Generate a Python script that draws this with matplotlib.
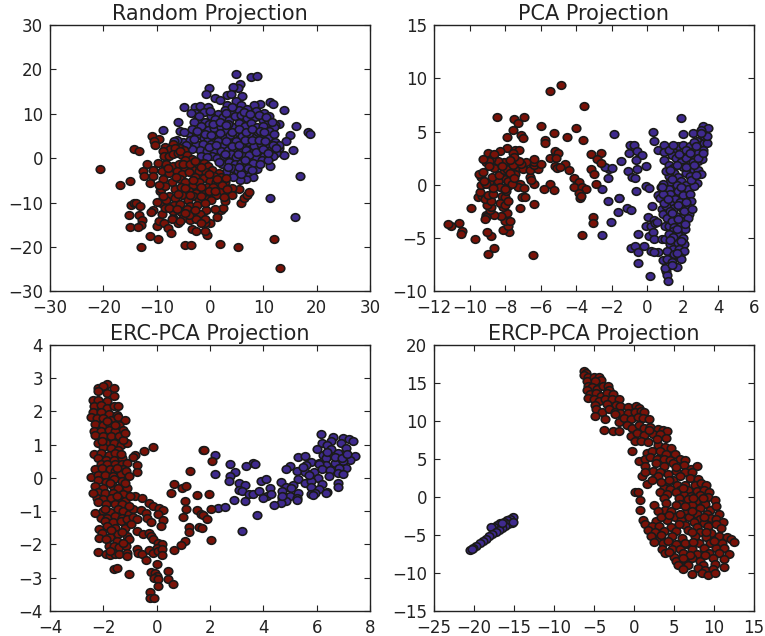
import matplotlib
matplotlib.use("Agg")
import matplotlib.pyplot as plt
from matplotlib.markers import MarkerStyle
from matplotlib.transforms import Affine2D

RED = "#7a1208"
BLUE = "#3f2a8e"
EDGE = "#1a1a1a"

titles = ["Random Projection", "PCA Projection", "ERC-PCA Projection", "ERCP-PCA Projection"]
xlims = [(-30, 30), (-12, 6), (-4, 8), (-25, 15)]
ylims = [(-30, 30), (-10, 15), (-4, 4), (-15, 20)]
xticks = [range(-30, 31, 10), range(-12, 7, 2), range(-4, 9, 2), range(-25, 16, 5)]
yticks = [range(-30, 31, 10), range(-10, 16, 5), range(-4, 5, 1), range(-15, 21, 5)]

# values
random_blue = [
    (4.9,19),(7.6,18.2),(8.8,18.4),(5.6,16.7),(5.2,15.7),(4.3,16),(-0.2,15.7),(-0.8,14.4),(0.9,13.6),(1.8,13.2),
    (3.1,14.2),(4,14.4),(6,13.9),(4.9,12.8),(-4.8,11.6),(-2.8,11.6),(-1.9,11.8),(-0.4,11.6),(-2.9,10.2),(-3.5,10.2),
    (-1.2,10.3),(3.2,11.9),(5.9,11.9),(9.4,12.2),(11.2,12.6),(11.9,12.1),(13.8,10.8),(8.2,11.9),(-6,8.2),(-8.8,6.4),
    (-5.7,6.1),(16.1,7.2),(13,7.6),(12.1,7.4),(18.4,5.9),(18.7,5.4),(15,5.2),(14.2,3.9),(15.6,1.8),(13.9,0.8),
    (12.9,2.3),(16.8,-4),(11.2,-9),(15.9,-13.2),(8.8,-2.5),(11.2,-1.8),(8.1,-4.3),(6.8,-4.8),(5.6,-4.9),(7.1,-3.2),
    (2.8,10.8),(4.2,10.6),(5.5,10.9),(7,11),(8.6,10.6),(10.2,10.2),(11,9.4),(1.5,10),(0.2,9.6),(-2,8.1),
    (-1,8.2),(-0.2,7.8),(1,8.8),(2.5,9.2),(3.6,8.6),(4.6,9.4),(5.8,9.8),(6.9,9),(8.4,9.2),(9.9,8.6),
    (10.8,8),(12,7),(-1.5,6.4),(-0.3,6.3),(0.8,6.7),(2,7.1),(3,6.2),(4.4,7),(5.4,7.9),(6.5,7.2),
    (7.7,7.9),(8.9,7),(10,7.2),(11.1,6.2),(-3.8,5.4),(-4.8,5.8),(-2.6,5),(-1.2,4.6),(-0.4,4.3),(1.1,5),
    (2.7,4.5),(3.8,5.3),(5,5.8),(6,4.9),(7.4,5.5),(8.6,4.7),(9.8,5.1),(10.9,4.6),(12.2,3.7),(13,2.9),
    (-5,3.6),(-6.2,4.2),(-3.8,4),(-2.6,3.3),(-1.4,3.1),(0.2,3.2),(1.5,3.9),(2.6,2.9),(3.8,3.4),(4.9,3.9),
    (6.2,3),(7.2,3.7),(8.3,2.7),(9.6,3.1),(10.8,3.2),(11.4,1.9),(12.4,1.2),(-1.9,1.9),(-0.5,1.7),(0.8,1.9),
    (2,1.6),(3.3,1.8),(4.6,2),(5.6,1.5),(6.8,1.8),(7.9,1.2),(9.3,1.7),(10.2,0.6),(11.2,0.2),(11.9,0.6),
    (-1.7,0.6),(0.4,0.4),(1.4,0.1),(2.7,0.5),(3.9,0.9),(4.9,0.3),(6.2,0.5),(7.3,-0.3),(8.6,0.2),(9.8,-0.4),
    (10.8,-0.5),(2.2,-1.2),(3.5,-0.9),(4.6,-1.3),(5.8,-1),(6.9,-1.4),(8,-1.1),(3,-3.1),(4.2,-2.2),(5.2,-3),
    (6.3,-2.6),(4.4,-4.2),(5.8,-3.6),(7.2,-2.2),(-3.4,2),(-4.5,2.9),(-6.8,3.8),(9,5.9),(0,10.6),(3.4,7.8),
    (-2.1,9.4),(-3,8.2),(-1.6,7.2),(0.5,7.6),(1.8,8.2),(3,10.2),(4.1,11.6),(6.4,10.5),(7.5,9.9),(9.1,9.8),
    (10.5,9.2),(11.6,8.2),(-3.4,6.6),(-2.4,6.2),(-0.9,5.5),(0.1,5.3),(1.9,5.6),(3,7.4),(4.1,6),(5.4,6.6),
    (6.7,6),(7.9,6.6),(9.3,6.2),(10.2,5.9),(12,5.4),(-3,4.4),(-0.1,2.5),(1.2,2.9),(3,3.9),(4.2,2.7),
    (5.5,3),(6.6,4),(7.9,4.2),(9.2,4),(10.4,3.9),(11.9,3),(12.4,2.2),(-0.6,0.2),(1.6,-0.9),(2.9,1),
    (5.3,1),(7.4,0.7),(8.7,1.3),(9.9,2.1),(10.9,1.2),(5.4,-1.9),(6.5,-0.3),(7.9,-2.7),(9.4,-1.3),(3.4,-2),
]
random_red = [
    (-20.7,-2.4),(-16.9,-6),(-15,-5.2),(-14.2,2),(-13.4,1.7),(-10.8,5.1),(-9.6,4.3),(-10.5,3.8),(-10.4,2.9),(-11.9,-1.3),
    (-12.6,-3),(-12.4,-4),(-10.6,-2.7),(-9.8,-1),(-10.7,-4),(-11.2,-5.7),(-9.4,-7.4),(-9.1,-7),(-14.9,-10.6),(-14.2,-10),
    (-13.8,-10.1),(-13.2,-10.7),(-15.1,-12.8),(-13.4,-12.8),(-12.7,-14),(-13,-15),(-15,-15.5),(-13.5,-15.5),(-10.6,-11.6),(-11,-12.2),
    (-11.2,-17.5),(-9.8,-18.2),(-12.9,-20.1),(-9.9,-15.3),(-9.6,-14.2),(-8.6,-14.7),(-9,-12.5),(-9.2,-10.2),(-7.8,-15.7),(-7.4,-16.8),
    (-6.9,-13.4),(-6,-14.7),(-4.7,-19.5),(-3.6,-19.5),(1.8,-19.4),(5.2,-20),(12,-18.3),(13.2,-24.7),(-0.6,-17.2),(-1,-16.4),
    (-3.4,-16),(-2.6,-16.4),(0,-14.7),(-1,-14.7),(1.3,-13.2),(2.1,-11.7),(2.4,-11.3),(1,-11.4),(-0.7,-11.7),(2.8,-9.7),
    (5.9,-10),(6.4,-9),(6.9,-8.3),(7.4,-7.6),(5.4,-6.9),(4.1,-6.7),(4.1,-8.2),(2.9,-5.4),(1.3,-6.9),(-7,3.2),
    (-8.5,2.5),(-5.7,2.4),(-7.5,2),(-6.5,2.2),(-4.8,1.8),(-8.9,1.6),(-8.6,0.5),(-7.7,0.6),(-6.9,1),(-6,1.2),
    (-5.3,0.8),(-5.6,1.6),(-4.3,0.8),(-3.4,-0.2),(-4.6,-0.4),(-2.4,-1.6),(-1.2,-1),(-0.4,-1.8),(0.4,-2.6),(1.6,-3.4),
    (-8.2,-1.4),(-7,-1.8),(-5.8,-1.2),(-4.6,-2.2),(-3.4,-2.4),(-2,-3),(-0.8,-3.2),(0.8,-4),(2,-4.2),(3,-4.4),
    (-9,-3),(-7.6,-3.4),(-6.2,-3),(-5.2,-3.6),(-4,-3.2),(-2.9,-4.2),(-1.2,-4.4),(0,-5.2),(1.2,-5.4),(2.2,-6),
    (-8.8,-4.8),(-7.2,-5.4),(-5.6,-4.6),(-4.6,-5.4),(-3.2,-6),(-2,-5.4),(-0.6,-6.4),(0.6,-6.6),(1.8,-7.6),(3.2,-7),
    (-8.4,-6.2),(-6.6,-7),(-5.4,-6.6),(-4,-7.4),(-2.6,-7.8),(-1.2,-7.6),(0,-8),(1.2,-8.4),(2.6,-8.8),(-7.6,-8.6),
    (-6.6,-9),(-5.2,-8.4),(-3.2,-8.6),(-2,-9.4),(-0.6,-9.2),(0.2,-9.4),(-8.2,-9.4),(-6.8,-10.6),(-5.6,-10.4),(-4.2,-9.4),
    (-3.8,-10.8),(-2.4,-10.6),(-1,-10),(-7,-12),(-5.4,-12.2),(-4.4,-11.4),(-3.2,-12.4),(-1.8,-12.6),(-5,-13.4),(-3.8,-14),
    (-2.6,-13.8),(-1,-13.6),(-7.2,-13.8),(-5.6,-14.2),(-4,-12.9),(-1.6,-14.6),(-8.4,-11.2),(-8.8,-8.6),(-9.6,-6),(-10,-9.8),
    (-6.4,-4.2),(-7.8,-2.2),(-5,-1.2),(-3.8,-1.2),(-2.8,-0.6),(-1.6,-2),(-0.2,-3.6),(1.4,-4.8),(-3.2,-5),(-1.6,-6.4),
    (-0.2,-7.4),(1,-7.4),(-4.6,-6.8),(-6,-8),(-3.8,-8.4),(-1.6,-8.6),(-7.6,-11.2),(-6.2,-11.4),(-2.8,-11.6),(-4.6,-12.4),
]

pca_blue = [
    (1.9,6.3),(0.3,5),(0.4,4.15),(-1.9,4.8),(3.15,5.5),(3.4,5.35),(3,5.1),(2.55,4.9),(2,4.8),(-1,3.7),
    (-0.75,3.7),(-1.05,3),(-0.6,3.2),(-0.3,2.8),(-0.65,2.35),(-1.5,2.25),(-0.1,1.75),(-2.15,1.5),(-2.4,1.65),(-2,1.6),
    (-1.1,1.25),(-0.6,1.45),(-0.85,0.7),(-0.7,0.65),(-2.2,0.6),(-0.65,-0.55),(-2.55,-0.35),(-0.05,-0.1),(0.1,-0.3),(-2.2,-1.55),
    (-1.6,-1.2),(-1.6,-1.25),(-1.65,-2.55),(-1.15,-2.2),(-0.9,-2.4),(-2.05,-3.5),(0.25,-2),(0.05,-3),(-2.55,-4.75),(-0.55,-4.65),
    (-0.9,-5.9),(-0.7,-5.7),(-0.5,-6.3),(-0.2,-5.7),(0.2,-6.2),(-0.5,-7.35),(0.15,-8.6),(1.05,-8.05),(1.1,-8.45),(1.15,-9),
    (1,-7.85),(0.9,-7.1),(1.3,-6.8),(0.6,-6.3),(-0.05,-3.9),(0.2,-3.9),(0.4,-3.3),(0.45,-3.6),(0.1,-4.85),(0.3,-4.4),
    (0.4,-5.05),(0.55,-3.5),(0.8,-5.1),(1,-5.05),(0.6,-1),(0.7,-1.25),(0.85,-2.3),(0.9,-2.7),(1,-3.85),(1.2,-3.85),
    (0.6,3.3),(0.95,3.7),(0.95,3.05),(0.95,2.35),(1.5,3.3),(1.4,2.8),(1.75,3.6),(2,3.7),(2.4,3.6),(2.8,4.1),
    (3,3.7),(3.2,3.95),(3.35,3.95),(3.2,4.6),(3.35,4.6),(2.9,3.3),(2.5,3.1),(2.1,2.9),(1.6,2.5),(1.2,1.9),
    (1.45,1.6),(1.9,2.1),(2.2,2.5),(2.7,2.7),(3,2.9),(2.85,2.2),(2.4,2),(2,1.7),(1.5,1.1),(1.2,0.8),
    (1.7,0.75),(2.15,1.1),(2.6,1.4),(2.85,1.4),(3,1),(2.4,0.8),(1.9,0.4),(1.3,0.3),(0.9,0.05),(0.75,-0.2),
    (1.2,-0.4),(1.65,0),(2.15,0),(2.65,0.25),(2.8,0.2),(2.3,-0.4),(1.75,-0.6),(1.25,-0.9),(0.9,-0.9),(1.55,-1.3),
    (2,-1),(2.4,-0.9),(2.45,-1.5),(1.85,-1.6),(1.3,-1.8),(1.05,-2),(1.5,-2.2),(1.95,-2.15),(2.3,-2.1),(2.35,-2.7),
    (2,-2.8),(1.6,-2.9),(1.25,-2.5),(1.1,-3.1),(1.4,-3.4),(1.9,-3.4),(2.3,-3.1),(1.85,-3.9),(1.5,-3.95),(1.45,-4.3),
    (1.9,-4.4),(2.1,-4.1),(1.7,-4.7),(2,-4.95),(1.55,-5.2),(1.3,-5.6),(1.75,-5.5),(2.05,-5.6),(1.45,-6),(1.8,-6),
    (2.05,-6.25),(1.1,-6.2),(1.5,-6.5),(1.85,-6.75),(1.9,-7),(1.65,-7.7),(1.1,-7),(1.4,-7.2),(0.4,-6.3),(2.6,-0.1),
    (2.55,2.1),(3.15,3.3),(2.85,3),(1.2,3.3),(1.8,2.9),(2.6,4),(3,4.9),(0.8,-0.2),(0.95,-1.7),(2.2,3.3),
    (2.4,3),(1.65,1.9),(2.15,1.65),(2.6,1.85),(3.05,2.4),(2.85,2.5),(1.4,0.55),(1.9,-0.2),(2.45,0.45),(1.15,-1.3),
    (1.7,-1.9),(2.15,-1.6),(2.05,-2.45),(1.4,-2.6),(1.75,-3.2),(2.1,-3.7),(1.65,-4.1),(1.2,-4.6),(1.45,-4.9),(1.9,-5.3),
    (1.65,-6.4),(1.25,-5.2),(1.4,-7.5),(2.5,-2.3),(2.75,0.9),(3.15,2.95),(2.75,3.6),(1.45,3.7),(1.05,1.25),(1.3,1.35),
]
pca_red = [
    (-4.85,9.35),(-5.47,8.8),(-3.54,7.44),(-8.46,6.34),(-7.5,6.2),(-6.93,6.4),(-7.3,5.84),(-5.97,5.56),(-4.03,5.3),(-7.56,5.1),
    (-5.24,4.84),(-4.5,4.47),(-7.1,4.7),(-7.02,4.4),(-7.87,4.53),(-5.77,4.25),(-5.77,3.94),(-3.63,4.16),(-7.9,3.45),(-7.45,3.3),
    (-7.2,3.25),(-8.3,3.2),(-8.95,3),(-7.55,2.95),(-3.15,2.85),(-2.6,2.95),(-2.85,2.45),(-5.2,3.15),(-5.05,3),(-5.45,2.55),
    (-5.15,2.5),(-2.6,2.05),(-4.65,2),(-5.2,1.75),(-5.1,1.6),(-4.9,1.7),(-3.15,1.45),(-3,1.05),(-4.4,1.4),(-4.1,0.6),
    (-3.85,0.3),(-5.45,0.05),(-4.15,-0.2),(-3.7,-0.2),(-3.45,-0.4),(-5.8,-0.4),(-5.25,-0.45),(-2.9,0.05),(-3.85,-0.8),(-3.8,-1.25),
    (-3.75,-1.05),(-3.05,-3.05),(-3.05,-3.6),(-3.7,-4.7),(-6.45,-6.55),(-8.6,-5.9),(-8.95,-6.5),(-8.8,-4.85),(-9,-4.4),(-7.8,-4.4),
    (-8.1,-4.25),(-7.85,-3.85),(-8,-3.4),(-7.7,-3.4),(-10.45,-4.35),(-10.5,-4.6),(-9.7,-5.1),(-10.6,-3.6),(-11.05,-3.9),(-11.2,-3.7),
    (-9.9,-2.15),(-9.5,-1.1),(-9.3,-1.05),(-6.35,-1.8),(-7.15,-2.2),(-7.05,-1.1),(-6.9,-1.15),(-7.9,-2.65),(-8.1,-2.1),(-8.25,-2.9),
    (-8.6,-2.8),(-9.05,-2.8),(-8.85,-2.4),(-9.1,-3),(-9.15,-3.2),(-8.8,-2.1),(-9,-1.9),(-9.15,-1.3),(-8.8,-1.5),(-8.95,-1),
    (-8.7,-0.9),(-8.2,-1.05),(-8,-1.1),(-8.3,-1.7),(-8,-1.85),(-7.85,-1.5),(-7.95,-0.6),(-9.4,-0.7),(-9.35,-0.05),(-7.85,-0.1),
    (-7.15,0.05),(-7.3,-0.2),(-6.95,-0.3),(-6.35,0.1),(-6.6,0.75),(-6.55,0.45),(-8,0.5),(-7.85,0.35),(-8.4,0.35),(-8.9,0.3),
    (-9.1,0.1),(-9.35,0.75),(-9.45,1.05),(-8.75,0.75),(-8.35,0.95),(-8.6,1.6),(-9.25,1.2),(-8.05,1.4),(-7.9,1.45),(-7.45,1),
    (-7.3,1.7),(-7,1.45),(-6.6,1.4),(-6.15,1.45),(-6.35,1.9),(-6.4,2.1),(-6,2),(-6.8,2.1),(-7.1,2),(-7.55,1.85),
    (-7.2,2.2),(-8.05,2.15),(-8.4,2.2),(-8.8,2.4),(-9.05,2.1),(-8.9,2.25),(-9.25,2.4),(-8.9,1.8),(-6.4,2.4),(-7.5,2.6),
    (-7.6,0.1),(-8.3,-0.2),(-8.7,-0.3),(-7.7,1.1),(-8.2,1.8),(-7.7,2.3),(-8.6,2.9),(-9.2,0.4),(-8,-0.35),(-7.5,0.6),
]

erc_blue = [
    (6.15,1.33),(6.6,1.23),(7,1.2),(7.2,1.17),(7.35,1.12),(6.9,1.05),(6.55,1.1),(6.2,1.05),(6.4,1),(7.1,0.9),
    (6,0.88),(6.55,0.88),(6.8,0.75),(7.45,0.65),(7.25,0.55),(6.25,0.7),(5.3,0.64),(5.55,0.65),(5.8,0.48),(6.1,0.45),
    (6.35,0.6),(6.7,0.45),(7,0.5),(7.1,0.3),(6.85,0.3),(6.35,0.38),(6.1,0.4),(5,0.36),(5.6,0.37),(4.85,0.27),
    (5.25,0.2),(5.55,0.17),(5.9,0.18),(6.2,0.25),(6.5,0.22),(6.8,0.15),(7,0.1),(6.45,0.05),(6.05,0),(5.3,-0.05),
    (5.55,-0.15),(5.8,-0.1),(4.65,-0.13),(5.1,-0.22),(6.2,-0.2),(6.8,-0.15),(6.8,-0.28),(5.8,-0.27),(6.1,-0.35),(6.4,-0.43),
    (6.35,-0.47),(5.8,-0.5),(5.95,-0.47),(4.85,-0.28),(4.7,-0.4),(5.05,-0.32),(5.3,-0.45),(4.7,-0.6),(5,-0.55),(5.25,-0.6),
    (5.25,-0.68),(4.85,-0.7),(4.65,-0.76),(5.85,-0.53),(4.4,-0.81),(2.2,0.7),(2.2,0.11),(2.75,0.41),(2.92,0.18),(2.75,0.06),
    (2.7,-0.1),(3.1,-0.15),(3.32,-0.22),(3.1,-0.38),(3.2,-0.4),(3.6,0.45),(3.7,0.4),(3.35,0.36),(2.9,-0.67),(3.3,-0.7),
    (3.45,-0.5),(3.6,-0.48),(3.9,-0.1),(4.1,-0.04),(3.85,-0.4),(4.15,-0.55),(4.25,-0.3),(4.3,-0.5),(4,-0.6),(2.3,-0.9),
    (2.55,-0.87),(3.75,-1.11),(3.2,-1.61),(4.7,-0.55),(5.7,0.07),(6.7,0.62),(6.95,0.6),(7.15,0.72),(6.4,0.78),(5.5,0.33),
]
erc_red = [
    (-1.85,2.82),(-2.2,2.7),(-2,2.75),(-1.6,2.7),(-2.2,2.6),(-1.85,2.55),(-1.6,2.45),(-2.4,2.33),(-2.2,2.35),(-1.85,2.3),
    (-2.35,2.15),(-2.1,2.18),(-1.85,2.1),(-1.6,2.15),(-1.45,2.15),(-2.4,1.97),(-2.1,1.98),(-1.8,1.92),(-1.5,1.9),(-2.45,1.82),
    (-2.25,1.8),(-2,1.8),(-1.7,1.75),(-1.45,1.83),(-1.2,1.74),(-2.3,1.62),(-2,1.6),(-1.75,1.6),(-1.4,1.6),(-1.25,1.45),
    (-2.35,1.42),(-2.1,1.42),(-1.8,1.45),(-1.55,1.42),(-2.3,1.3),(-2,1.25),(-1.7,1.25),(-1.4,1.25),(-2.2,1.05),(-1.9,1.05),
    (-1.6,1.05),(-1.35,1),(-1.1,1.05),(-1.25,1.15),(-2,0.92),(-1.7,0.9),(-1.45,0.85),(-2.35,0.73),(-2.1,0.75),(-1.8,0.7),
    (-1.55,0.75),(-2.2,0.6),(-1.9,0.55),(-1.6,0.55),(-1.3,0.6),(-2.1,0.4),(-1.85,0.4),(-1.55,0.42),(-1.3,0.4),(-1.1,0.45),
    (-2.3,0.25),(-2.05,0.28),(-1.75,0.25),(-1.55,0.2),(-1.25,0.25),(-2.45,0.03),(-2.2,0.08),(-1.95,0.08),(-1.65,0.05),(-1.35,0.1),
    (-2.2,-0.08),(-1.9,-0.12),(-1.6,-0.05),(-1.3,-0.1),(-1.1,-0.3),(-2.3,-0.25),(-2,-0.3),(-1.65,-0.25),(-1.45,-0.3),(-2.2,-0.42),
    (-1.95,-0.45),(-1.65,-0.45),(-1.25,-0.5),(-2.25,-0.62),(-2,-0.65),(-1.7,-0.62),(-1.4,-0.65),(-1.2,-0.7),(-2.2,-0.72),(-1.9,-0.8),
    (-1.55,-0.8),(-1.3,-0.8),(-2.3,-1.05),(-2,-1),(-1.75,-1.02),(-1.45,-0.95),(-1.25,-1),(-1.05,-1.08),(-2.1,-1.2),(-1.85,-1.2),
    (-1.55,-1.15),(-1.3,-1.2),(-1.95,-1.3),(-1.65,-1.32),(-1.35,-1.3),(-1.1,-1.25),(-2.15,-1.55),(-1.85,-1.45),(-1.55,-1.5),(-1.2,-1.52),
    (-2.05,-1.65),(-1.75,-1.78),(-1.45,-1.7),(-1.1,-1.75),(-2.15,-1.8),(-1.9,-1.85),(-1.5,-1.9),(-1.05,-1.85),(-1.8,-2.05),(-1.6,-2.05),
    (-1.4,-2.08),(-1.15,-2.05),(-2.2,-2.22),(-1.9,-2.3),(-1.75,-2.32),(-1.55,-2.3),(-1.4,-2.28),(-1.1,-2.25),(-1.1,-2.35),(-1.6,-2.75),
    (-1.5,-2.72),(-1.05,-2.88),(-0.8,-0.55),(-0.55,-0.62),(-0.3,-0.75),(-0.15,-0.85),(0.1,-0.9),(0.25,-0.98),(0.05,-1.1),(-0.9,-0.95),
    (-0.6,-0.98),(-0.4,-1.05),(-0.35,-1.2),(-0.9,-1.18),(-0.75,-1.25),(-0.2,-1.33),(0.25,-1.28),(0.15,-1.45),(-0.75,-1.6),(-0.5,-1.7),
    (-0.3,-1.65),(-0.2,-1.75),(-0.15,-1.85),(0.05,-1.95),(0.2,-2),(0,-2.1),(-0.75,-2.15),(-0.7,-2.25),(-0.55,-2.3),(-0.3,-2.18),
    (-0.15,-2.25),(0.05,-2.2),(0.2,-2.15),(0.2,-2.33),(-0.4,-2.48),(0,-2.6),(-0.2,-2.82),(-0.05,-2.85),(0,-2.95),(-0.1,-3),
    (0.05,-3.05),(0.42,-2.8),(0.42,-3.05),(0.6,-3.2),(0.05,-3.25),(-0.25,-3.42),(-0.25,-3.62),(-0.1,-3.6),(-0.8,0.7),(-0.9,0.63),
    (-0.47,0.8),(-0.15,0.93),(-0.72,0.38),(-0.72,0.17),(0.65,-0.2),(0.95,-0.32),(1.1,-0.24),(0.55,-0.46),(1.05,-0.7),(1.25,0.21),
    (1.5,-0.53),(1.95,-0.5),(1.1,-0.95),(1,-1.17),(1.5,-0.98),(1.65,-1.08),(1.75,-1.12),(1.9,-1.25),(1.2,-1.48),(1.2,-1.63),
    (1.6,-1.48),(1.7,-1.52),(2.05,-0.95),(2.05,-1.86),(1.05,-1.9),(0.92,-2.03),(0.65,-2.17),(1.75,0.84),(1.76,0.83),(2.07,0.51),
    (-1.2,1.35),(-1.15,0.2),(-1.05,0.05),(-1.2,-0.15),(-1,-0.55),(-1.05,-0.85),(-0.95,-1.4),(-1.3,-1.62),(-1.7,-1.58),(-1.95,-0.95),
    (-2.4,-0.45),(-1.5,-0.55),(-1.75,-0.15),(-2.05,1.12),(-1.55,1.58),(-1.85,1.72),(-1.35,0.72),(-1.5,0.3),(-1.75,-2.2),(-1.25,-1.95),
]

ercp_blue = [
    (-15.1,-2.7),(-15.5,-2.9),(-15.9,-3.1),(-16.3,-3.3),(-16.7,-3.5),(-17.1,-3.7),(-17.5,-3.9),(-17.9,-4),(-15.3,-3.4),(-15.7,-3.6),
    (-16.1,-3.8),(-16.5,-4.1),(-16.9,-4.3),(-17.3,-4.6),(-17.7,-4.9),(-18.1,-5.2),(-18.5,-5.5),(-18.9,-5.8),(-19.3,-6.1),(-19.7,-6.4),
    (-20.1,-6.7),(-20.5,-7),(-20.3,-6.9),(-16.5,-3.4),(-15.1,-3.3),
]
ercp_red = [
    (-6.2,16.5),(-6,16.3),(-6.3,16),(-5.7,15.8),(-5.9,15.2),(-5,15.7),(-4.4,15.8),(-4.1,15.4),(-4.9,15.2),(-5.8,14.6),
    (-5.3,14.4),(-4.6,14.2),(-3.9,14.5),(-3.3,14.6),(-3.1,14.1),(-5.9,14),(-5.5,13.5),(-4.8,13.6),(-4.1,13.2),(-3.4,13.6),
    (-2.6,13.5),(-5.7,13),(-5,12.9),(-4.4,12.6),(-3.6,12.8),(-2.8,12.9),(-1.9,12.9),(-4.9,12.1),(-3.4,12.2),(-2.2,12.1),
    (-1.7,12),(-4.8,11.6),(-4,11.2),(-3.1,11.5),(-2.4,11.1),(-1.7,11),(-0.8,11.8),(0.2,11.9),(0.6,11.7),(-4.9,10.6),
    (-3.6,10.2),(-1.9,9.8),(-3.8,8.8),(-2.6,8.6),(-1.9,8.7),(-0.7,11),(0.1,11.1),(0.9,11.3),(1.3,11.1),(-1.2,10.4),
    (-0.4,10.2),(0.5,10.5),(1.1,10.3),(1.9,10.2),(-0.9,9.4),(-0.2,9),(0.6,9.4),(1.2,9),(2,9.2),(3,8.9),
    (3.6,8.8),(4.1,8.6),(-0.4,8),(0.4,8.4),(1.2,8.1),(2.4,8.2),(3.2,8.3),(4,7.7),(0.1,7.4),(0.9,7.4),
    (1.7,7.2),(3,6.8),(3.9,6.6),(4.6,6.4),(-0.3,6),(1.6,5.8),(2.2,6),(3.2,6),(4,5.6),(5.1,5.6),
    (0.6,4.7),(1.4,5),(2,5.2),(2.9,5),(3.7,5),(4.5,4.9),(5.8,5),(6.4,4.9),(1.4,4),(2.7,4.4),
    (3.8,4.1),(4.9,4.5),(6.2,4.2),(7.1,3.7),(7.9,4),(2.4,3.4),(3.2,3.2),(4.2,3),(5.3,3.4),(6.4,3.2),
    (7.2,3.3),(1,2.8),(3,2.8),(4.9,2.2),(5.8,2.7),(7,2.5),(8,2.3),(1.6,1.7),(2.2,2.2),(4,1.7),
    (5.4,1.5),(6.4,1.6),(7.6,1.6),(8.4,1.8),(9,1.5),(3.7,1.2),(4.5,1),(5.8,0.9),(6.8,0.9),(7.9,0.8),
    (8.7,0.9),(9.4,0.7),(3.3,0.6),(4.1,0.4),(5.3,0.6),(6.2,0.2),(7.1,0.1),(8.2,0.2),(9.2,0),(0.1,0.6),
    (0.5,0.6),(3.7,-0.2),(5.6,-0.2),(6.7,-0.3),(7.8,-0.6),(8.9,-0.9),(10.1,-0.4),(0.8,-0.4),(4,-0.8),(5.8,-0.9),
    (2.5,-1.1),(3.9,-1.7),(7.3,-1.1),(8.2,-1.5),(9.5,-1.7),(10.2,-1.2),(0.7,-1.7),(3,-1.9),(4.6,-1.8),(6.6,-1.9),
    (7.9,-2.2),(9.1,-2.2),(10.6,-2.2),(5.1,-2.7),(6.9,-2.7),(8.2,-2.9),(9.6,-2.8),(10.2,-2.9),(1.1,-3.1),(2.8,-3.2),
    (4.1,-3),(5.9,-3.1),(7.5,-3.3),(8.7,-3.4),(11.1,-3.3),(1.4,-3.6),(2.2,-3.8),(3.1,-3.8),(4.6,-3.9),(6.4,-3.7),
    (7.9,-3.9),(9.2,-3.8),(10.3,-3.6),(1.8,-4.4),(2.6,-4.6),(3.7,-4.5),(5.3,-4.5),(6.8,-4.4),(8.3,-4.6),(9.6,-4.7),
    (10.9,-4.1),(2.1,-5.2),(3.2,-5.4),(4.7,-5.2),(6,-5.4),(7.6,-5.2),(9,-5.3),(10.6,-5.1),(11.6,-5.3),(12.1,-5.5),
    (2.5,-5.9),(3.6,-6.1),(5.2,-6.2),(6.5,-6.2),(8.1,-6),(9.5,-6),(11,-6),(12.5,-5.9),(3.5,-6.8),(4.7,-6.8),
    (5.8,-6.8),(7.2,-6.9),(8.7,-6.7),(10.2,-6.7),(11.3,-6.7),(3.9,-7.4),(5,-7.9),(6.1,-7.4),(7.9,-7.5),(9.4,-7.4),
    (10.6,-7.4),(11.9,-7.5),(5.3,-8.4),(6.5,-8.4),(7.3,-8.1),(8.3,-8.4),(9.9,-8.1),(11.2,-8.2),(5.5,-9),(6.8,-8.9),
    (8.6,-9),(10.1,-8.8),(11.2,-9.2),(6.1,-9.5),(8,-9.3),(8.9,-9.6),(9.9,-9.5),(7.2,-10.2),(8.5,-10),(9.2,-10.3),
    (10.1,-10),(-2.4,10.9),(1.4,3.2),(3.4,1.9),(2.9,7.6),(1.9,8.8),(5.2,3.9),(4.4,2.2),(6.1,1.2),(7.4,-0.2),
    (6.4,-1.2),(5.2,-1.1),(3.4,-2.6),(4.4,-2.4),(5.8,-2.2),(7.2,-1.8),(8.6,-0.2),(3.4,-5),(5.6,-3.6),(7.2,-4.6),
    (8.8,-2.6),(10,-5.8),(4.2,-5.8),(6.4,-6),(7.4,-5.9),(9,-4.6),(8.9,-7.6),(7,-7.6),(4.4,-7.2),(6.1,-8),
]

blues = [random_blue, pca_blue, erc_blue, ercp_blue]
reds = [random_red, pca_red, erc_red, ercp_red]

# markers in the reference are slightly wider than tall
wide_dot = MarkerStyle("o", transform=Affine2D().scale(1.12, 1.0))

fig, axes = plt.subplots(2, 2, figsize=(7.65, 6.36), dpi=100)
fig.subplots_adjust(left=50 / 765, right=754 / 765, top=1 - 25 / 636, bottom=1 - 611 / 636, wspace=0.2, hspace=0.2)

for i, ax in enumerate(axes.flat):
    for pts, col in ((blues[i], BLUE), (reds[i], RED)):
        ax.scatter([p[0] for p in pts], [p[1] for p in pts], s=30, c=col, marker=wide_dot,
                   edgecolors=EDGE, linewidths=1.2)
    ax.set_xlim(xlims[i])
    ax.set_ylim(ylims[i])
    ax.set_xticks(list(xticks[i]))
    ax.set_yticks(list(yticks[i]))
    ax.tick_params(direction="in", top=True, right=True, length=4.5, width=0.8, colors="#222222")
    ax.tick_params(axis="x", labelsize=12, pad=5.5)
    ax.tick_params(axis="y", labelsize=12, pad=5)
    ax.set_title(titles[i], fontsize=15, pad=3.5, color="#222222")
    for spine in ax.spines.values():
        spine.set_linewidth(1.0)
        spine.set_color("#222222")

fig.savefig("out.png", dpi=100)
